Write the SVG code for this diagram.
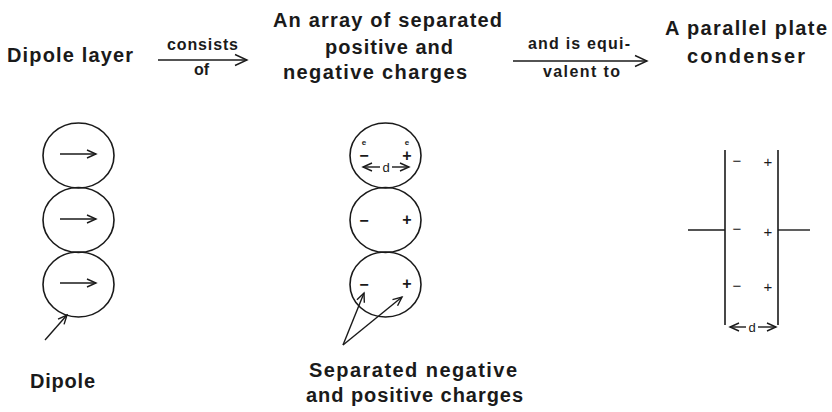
<svg xmlns="http://www.w3.org/2000/svg" width="832" height="412" viewBox="0 0 832 412">
<style>
.t{font-family:"Liberation Sans",Arial,Helvetica,sans-serif;fill:#1a1a1a}
.h{font-size:20px;font-weight:bold}
.s{font-size:16px;font-weight:bold}
.q{font-size:16px;font-weight:bold;text-anchor:middle}
.p{font-size:15px;text-anchor:middle}
.e{font-size:8px;font-weight:bold;text-anchor:middle}
.d{font-size:13px;text-anchor:middle}
.c{fill:none;stroke:#1a1a1a;stroke-width:1.6}
.l{fill:none;stroke:#1a1a1a;stroke-width:1.4}
</style>
<defs>
<marker id="big" markerUnits="userSpaceOnUse" markerWidth="16" markerHeight="14" refX="13" refY="7" orient="auto"><path d="M1,1.5 L13,7 L1,12.5" fill="none" stroke="#1a1a1a" stroke-width="1.4"/></marker>
<marker id="sm" markerUnits="userSpaceOnUse" markerWidth="12" markerHeight="12" refX="10" refY="6" orient="auto"><path d="M1,2 L10,6 L1,10" fill="none" stroke="#1a1a1a" stroke-width="1.4"/></marker>
</defs>
<g id="dipole-layer-title"><text class="t h" x="7" y="62" textLength="126" lengthAdjust="spacing">Dipole layer</text></g>
<g id="array-title">
<text class="t h" x="273" y="27" textLength="229" lengthAdjust="spacing">An array of separated</text>
<text class="t h" x="325" y="54" textLength="128" lengthAdjust="spacing">positive and</text>
<text class="t h" x="283" y="79" textLength="184" lengthAdjust="spacing">negative charges</text>
</g>
<g id="condenser-title">
<text class="t h" x="665" y="35" textLength="162" lengthAdjust="spacing">A parallel plate</text>
<text class="t h" x="687" y="63" textLength="118" lengthAdjust="spacing">condenser</text>
</g>
<g id="dipoles">
<ellipse class="c" cx="78.5" cy="155.5" rx="35.5" ry="32.5"/>
<ellipse class="c" cx="78.5" cy="220" rx="35.5" ry="32.5"/>
<ellipse class="c" cx="78.5" cy="284.5" rx="35.5" ry="32.5"/>
<line class="l" x1="60" y1="154" x2="96" y2="154" marker-end="url(#sm)"/>
<line class="l" x1="60" y1="219" x2="96" y2="219" marker-end="url(#sm)"/>
<line class="l" x1="60" y1="283" x2="96" y2="283" marker-end="url(#sm)"/>
</g>
<g id="charges">
<ellipse class="c" cx="385.5" cy="155.5" rx="35.5" ry="32.5"/>
<ellipse class="c" cx="385.5" cy="220" rx="35.5" ry="32.5"/>
<ellipse class="c" cx="385.5" cy="284.5" rx="35.5" ry="32.5"/>
<text class="t e" x="364" y="144.5">e</text>
<text class="t e" x="407" y="144.5">e</text>
<text class="t q" x="364" y="161">−</text>
<text class="t q" x="407" y="161">+</text>
<line class="l" x1="380" y1="167" x2="363" y2="167" marker-end="url(#sm)"/>
<line class="l" x1="392" y1="167" x2="409" y2="167" marker-end="url(#sm)"/>
<text class="t d" x="386" y="171.5">d</text>
<text class="t q" x="364" y="225.5">−</text>
<text class="t q" x="407" y="224.5">+</text>
<text class="t q" x="364" y="289.5">−</text>
<text class="t q" x="407" y="288.5">+</text>
</g>
<g id="condenser">
<line class="c" x1="725" y1="150" x2="725" y2="325"/>
<line class="c" x1="778" y1="150" x2="778" y2="325"/>
<line class="l" x1="688" y1="230" x2="725" y2="230"/>
<line class="l" x1="778" y1="230" x2="810" y2="230"/>
<text class="t p" x="737" y="166">−</text>
<text class="t p" x="768" y="167">+</text>
<text class="t p" x="737" y="234">−</text>
<text class="t p" x="768" y="237">+</text>
<text class="t p" x="737" y="291">−</text>
<text class="t p" x="768" y="292">+</text>
<line class="l" x1="746" y1="327" x2="730" y2="327" marker-end="url(#sm)"/>
<line class="l" x1="758" y1="327" x2="776" y2="327" marker-end="url(#sm)"/>
<text class="t d" x="752" y="331.5">d</text>
</g>
<g id="dipole-label"><text class="t h" x="30" y="388" textLength="65" lengthAdjust="spacing">Dipole</text></g>
<g id="separated-label">
<text class="t h" x="309" y="377" textLength="208" lengthAdjust="spacing">Separated negative</text>
<text class="t h" x="306" y="402" textLength="217" lengthAdjust="spacing">and positive charges</text>
</g>
<g id="connectors">
<line class="l" x1="158" y1="60" x2="247" y2="60" marker-end="url(#big)"/>
<text class="t s" x="167" y="50" textLength="71" lengthAdjust="spacing">consists</text>
<text class="t s" x="194" y="75">of</text>
<line class="l" x1="513" y1="61" x2="647" y2="61" marker-end="url(#big)"/>
<text class="t s" x="528" y="49" textLength="102" lengthAdjust="spacing">and is equi-</text>
<text class="t s" x="543" y="77" textLength="77" lengthAdjust="spacing">valent to</text>
<line class="l" x1="45" y1="340" x2="67" y2="315" marker-end="url(#sm)"/>
<line class="l" x1="343" y1="345" x2="364" y2="293" marker-end="url(#sm)"/>
<line class="l" x1="343" y1="345" x2="402" y2="297" marker-end="url(#sm)"/>
</g>
</svg>
